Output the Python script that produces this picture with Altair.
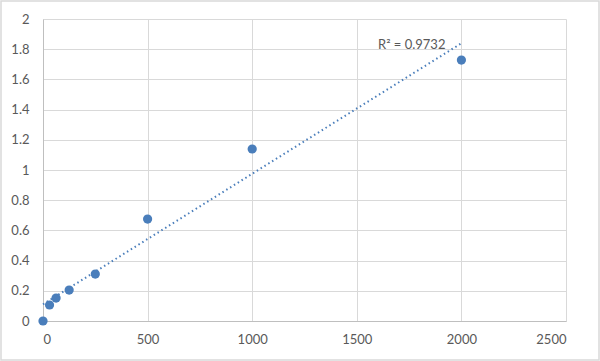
import altair as alt
import pandas as pd

conc = [0, 31.25, 62.5, 125, 250, 500, 1000, 2000]
od = [0.0, 0.106, 0.152, 0.205, 0.311, 0.675, 1.139, 1.728]
r2_text = ["R\u00b2 = 0.9732"]
y_ticks = [0, 0.2, 0.4, 0.6, 0.8, 1, 1.2, 1.4, 1.6, 1.8, 2]
x_ticks = [0, 500, 1000, 1500, 2000, 2500]

df = pd.DataFrame({"x": conc, "y": od})

W, H = 523, 302
PL, PT, PR, PB = 43, 19, 34, 40
blue = "#4a7ebb"
font = "Lato"

xs = alt.Scale(domain=[0, 2500], nice=False)
ys = alt.Scale(domain=[0, 2], nice=False)

xax = alt.Axis(values=x_ticks, format="d", title=None, labelOverlap=False, tickCount=6,
               ticks=False, labelPadding=12, gridColor="#d9d9d9", domainColor="#bfbfbf",
               labelColor="#595959", labelFont=font, labelFontSize=13)
yax = alt.Axis(values=y_ticks, format="~g", title=None, labelOverlap=False, tickCount=11,
               ticks=False, labelPadding=14, gridColor="#d9d9d9", domainColor="#bfbfbf",
               labelColor="#595959", labelFont=font, labelFontSize=13)

base = alt.Chart(df)

trend = base.mark_line(color=blue, strokeWidth=2, strokeDash=[1.5, 3]).encode(
    x=alt.X("x:Q", scale=xs, axis=xax),
    y=alt.Y("y:Q", scale=ys, axis=yax),
).transform_regression("x", "y", method="linear", extent=[0, 2000])

pts = base.mark_circle(color=blue, size=85, opacity=1).encode(
    x=alt.X("x:Q", scale=xs, axis=xax),
    y=alt.Y("y:Q", scale=ys, axis=yax),
)

label = alt.Chart(pd.DataFrame({"t": r2_text})).mark_text(
    font=font, fontSize=13, color="#595959", align="left", baseline="middle"
).encode(x=alt.value(335), y=alt.value(26), text="t:N")

frame = alt.Chart(pd.DataFrame({"a": [0]})).mark_rect(
    fill=None, stroke="#d9d9d9", strokeWidth=1.5
).encode(x=alt.value(-PL + 1), x2=alt.value(W + PR - 1), y=alt.value(-PT + 1), y2=alt.value(H + PB - 1))

chart = alt.layer(trend, pts, label, frame).properties(
    width=W, height=H,
    padding={"left": PL, "top": PT, "right": PR, "bottom": PB},
    autosize=alt.AutoSizeParams(type="none"),
    background="white",
).configure_view(stroke=None)

chart.save("out.html", embed_options={"renderer": "svg", "actions": False})
